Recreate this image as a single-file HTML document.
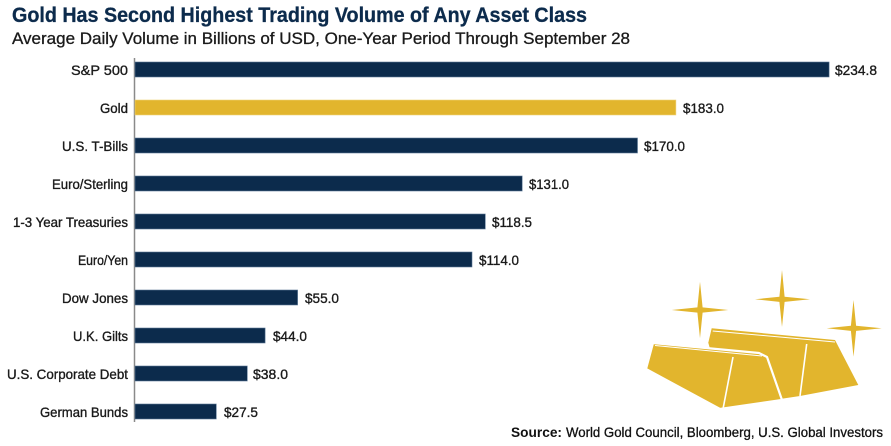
<!DOCTYPE html>
<html>
<head>
<meta charset="utf-8">
<style>
  html, body { margin:0; padding:0; background:#ffffff; }
  body { width:891px; height:446px; overflow:hidden; }
  svg { display:block; }
  .t { font-family:"Liberation Sans", sans-serif; }
</style>
</head>
<body>
<svg width="891" height="446" viewBox="0 0 891 446" xmlns="http://www.w3.org/2000/svg">
  <rect x="0" y="0" width="891" height="446" fill="#ffffff"/>

  <!-- Title -->
  <text class="t" x="12" y="22" font-size="21" font-weight="bold" fill="#0c2b4c" stroke="#0c2b4c" stroke-width="0.3" textLength="575" lengthAdjust="spacingAndGlyphs">Gold Has Second Highest Trading Volume of Any Asset Class</text>
  <text class="t" x="12" y="44" font-size="16.5" fill="#1a1a1a" stroke="#1a1a1a" stroke-width="0.3" textLength="618" lengthAdjust="spacingAndGlyphs">Average Daily Volume in Billions of USD, One-Year Period Through September 28</text>

  <!-- Axis -->
  <line x1="134.5" y1="58" x2="134.5" y2="422" stroke="#8a8a8a" stroke-width="1.5"/>

  <!-- Bars -->
  <g stroke="#5c7896" stroke-width="0.6">
    <rect x="135" y="62"  width="694.1" height="15" fill="#0c2b4c"/>
    <rect x="135" y="100" width="540.9" height="15" fill="#e2b52d" stroke="#efd27a"/>
    <rect x="135" y="138" width="502.5" height="15" fill="#0c2b4c"/>
    <rect x="135" y="176" width="387.2" height="15" fill="#0c2b4c"/>
    <rect x="135" y="214" width="350.3" height="15" fill="#0c2b4c"/>
    <rect x="135" y="252" width="337.0" height="15" fill="#0c2b4c"/>
    <rect x="135" y="290" width="162.6" height="15" fill="#0c2b4c"/>
    <rect x="135" y="328" width="130.1" height="15" fill="#0c2b4c"/>
    <rect x="135" y="366" width="112.3" height="15" fill="#0c2b4c"/>
    <rect x="135" y="404" width="81.3"  height="15" fill="#0c2b4c"/>
  </g>

  <!-- Category labels -->
  <g class="t" font-size="14" fill="#1a1a1a" stroke="#1a1a1a" stroke-width="0.35" text-anchor="end">
    <text x="128" y="75"  textLength="57"  lengthAdjust="spacingAndGlyphs">S&amp;P 500</text>
    <text x="128" y="113" textLength="28"  lengthAdjust="spacingAndGlyphs">Gold</text>
    <text x="128" y="151" textLength="66"  lengthAdjust="spacingAndGlyphs">U.S. T-Bills</text>
    <text x="128" y="189" textLength="76"  lengthAdjust="spacingAndGlyphs">Euro/Sterling</text>
    <text x="128" y="227" textLength="115" lengthAdjust="spacingAndGlyphs">1-3 Year Treasuries</text>
    <text x="128" y="265" textLength="50"  lengthAdjust="spacingAndGlyphs">Euro/Yen</text>
    <text x="128" y="303" textLength="66"  lengthAdjust="spacingAndGlyphs">Dow Jones</text>
    <text x="128" y="341" textLength="55"  lengthAdjust="spacingAndGlyphs">U.K. Gilts</text>
    <text x="128" y="379" textLength="121" lengthAdjust="spacingAndGlyphs">U.S. Corporate Debt</text>
    <text x="128" y="417" textLength="88"  lengthAdjust="spacingAndGlyphs">German Bunds</text>
  </g>

  <!-- Value labels -->
  <g class="t" font-size="14" fill="#1a1a1a" stroke="#1a1a1a" stroke-width="0.35">
    <text x="835" y="75"  textLength="42" lengthAdjust="spacingAndGlyphs">$234.8</text>
    <text x="683" y="113" textLength="41" lengthAdjust="spacingAndGlyphs">$183.0</text>
    <text x="644" y="151" textLength="41" lengthAdjust="spacingAndGlyphs">$170.0</text>
    <text x="529" y="189" textLength="40" lengthAdjust="spacingAndGlyphs">$131.0</text>
    <text x="492" y="227" textLength="40" lengthAdjust="spacingAndGlyphs">$118.5</text>
    <text x="479" y="265" textLength="40" lengthAdjust="spacingAndGlyphs">$114.0</text>
    <text x="305" y="303" textLength="34" lengthAdjust="spacingAndGlyphs">$55.0</text>
    <text x="273" y="341" textLength="34" lengthAdjust="spacingAndGlyphs">$44.0</text>
    <text x="253" y="379" textLength="35" lengthAdjust="spacingAndGlyphs">$38.0</text>
    <text x="224" y="417" textLength="34" lengthAdjust="spacingAndGlyphs">$27.5</text>
  </g>

  <!-- Gold bars graphic -->
  <g fill="#e2b52d">
    <!-- stars -->
    <path d="M700 281.7 L702.6 307.4 L728.3 310 L702.6 312.6 L700 338.3 L697.4 312.6 L671.7 310 L697.4 307.4 Z"/>
    <path d="M782 270 L784.6 296.7 L810 299.3 L784.6 301.9 L782 327 L779.4 301.9 L755 299.3 L779.4 296.7 Z"/>
    <path d="M853.5 300 L856.1 325.7 L881.7 328.3 L856.1 330.9 L853.5 356.7 L850.9 330.9 L826.7 328.3 L850.9 325.7 Z"/>

    <!-- right (back) bar -->
    <polygon points="708.3,342.7 711.7,328.3 835,340 858.3,385 800,396 780,399 740,378 712,356"/>
    <line x1="712.7" y1="331" x2="835" y2="342" stroke="#ffffff" stroke-width="1"/>
    <line x1="806.7" y1="344" x2="800" y2="396" stroke="#ffffff" stroke-width="1.6"/>

    <!-- left (front) bar -->
    <polygon points="653,343 759,353 767,357 782,400 720,409 646,369" stroke="#ffffff" stroke-width="2.2" stroke-linejoin="round"/>
    <line x1="655" y1="345.5" x2="762" y2="356" stroke="#ffffff" stroke-width="1"/>
    <line x1="733" y1="357" x2="723" y2="409" stroke="#ffffff" stroke-width="1.6"/>
  </g>

  <!-- Source -->
  <text class="t" x="511" y="437" font-size="13.5" font-weight="bold" fill="#111111" textLength="51" lengthAdjust="spacingAndGlyphs">Source:</text>
  <text class="t" x="566" y="437" font-size="13.5" fill="#111111" stroke="#111111" stroke-width="0.3" textLength="317" lengthAdjust="spacingAndGlyphs">World Gold Council, Bloomberg, U.S. Global Investors</text>
</svg>
</body>
</html>
